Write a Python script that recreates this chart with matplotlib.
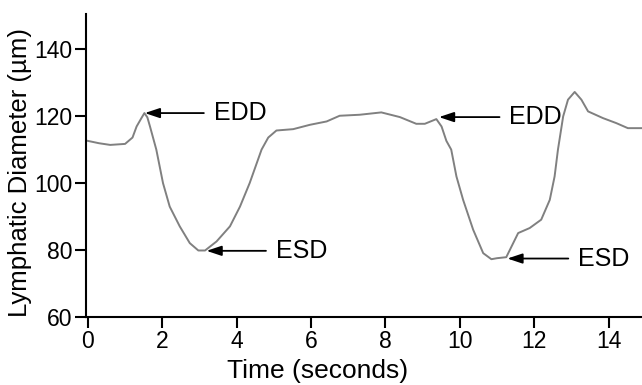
import matplotlib.pyplot as plt

# diameter trace
time_s = [0.0, 0.3, 0.6, 1.0, 1.2, 1.31, 1.45, 1.52, 1.6, 1.67, 1.84, 2.02,
          2.20, 2.47, 2.74, 2.97, 3.15, 3.46, 3.82, 4.09, 4.35, 4.67, 4.85,
          5.07, 5.52, 5.97, 6.42, 6.77, 7.31, 7.89, 8.39, 8.83, 9.06, 9.37,
          9.51, 9.64, 9.77, 9.91, 10.09, 10.36, 10.63, 10.85, 11.0, 11.25,
          11.57, 11.88, 12.19, 12.42, 12.55, 12.64, 12.78, 12.91, 13.09,
          13.27, 13.45, 13.85, 14.21, 14.52, 14.9]
diameter = [112.5, 111.8, 111.3, 111.6, 113.5, 116.8, 119.5, 120.8, 119.5,
            116.8, 109.9, 99.9, 92.9, 87.0, 82.0, 79.8, 79.8, 82.5, 87.0,
            92.9, 99.9, 109.9, 113.5, 115.6, 116.0, 117.3, 118.3, 120.0,
            120.3, 121.0, 119.6, 117.6, 117.6, 119.0, 116.8, 112.5, 109.9,
            101.9, 94.9, 86.0, 79.0, 77.2, 77.5, 77.8, 85.0, 86.5, 89.0,
            94.9, 101.9, 109.9, 119.8, 124.8, 127.1, 124.8, 121.3, 119.3,
            117.8, 116.3, 116.3]

# annotations: label, arrow tip (t, d), text start t
marks = [("EDD", 1.53, 120.8, 3.38),
         ("ESD", 3.19, 79.7, 5.05),
         ("EDD", 9.44, 119.6, 11.33),
         ("ESD", 11.28, 77.4, 13.18)]

plt.rcParams['font.family'] = ['Liberation Sans', 'DejaVu Sans']

fig = plt.figure(figsize=(6.42, 3.85), dpi=100)
ax = fig.add_axes([0.134, 0.177, 0.866, 0.787])

ax.plot(time_s, diameter, color='#808080', lw=1.4)

for label, t, d, t_text in marks:
    ax.annotate(label, xy=(t, d), xytext=(t_text, d),
                fontsize=18, va='center', ha='left',
                arrowprops=dict(arrowstyle='-|>,head_length=0.9,head_width=0.3',
                                color='black', lw=1.3, mutation_scale=10,
                                shrinkA=5, shrinkB=0))

ax.set_xlim(-0.05, 14.9)
ax.set_ylim(60, 150.4)
ax.set_xticks([0, 2, 4, 6, 8, 10, 12, 14])
ax.set_yticks([60, 80, 100, 120, 140])
ax.spines['top'].set_visible(False)
ax.spines['right'].set_visible(False)
for s in ['left', 'bottom']:
    ax.spines[s].set_linewidth(1.5)
ax.tick_params(labelsize=16.5, width=1.5, length=8, pad=1.5)
ax.set_xlabel("Time (seconds)", fontsize=19)
ax.set_ylabel("Lymphatic Diameter (µm)", fontsize=18.5)
# the original figure was cropped on the right, so the x label sits left of centre
ax.xaxis.set_label_coords(0.417, -0.14)
ax.yaxis.set_label_coords(-0.097, 0.475)

fig.savefig('out.png', dpi=100)
